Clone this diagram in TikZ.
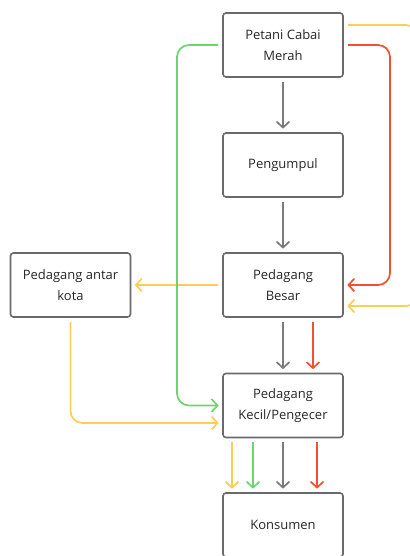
\documentclass[tikz,border=0pt]{standalone}
\usepackage{fontspec}
\setmainfont{Open Sans}
\usetikzlibrary{arrows.meta}
\definecolor{boxc}{HTML}{6A6A6A}
\definecolor{grayc}{HTML}{7B7B7B}
\definecolor{greenc}{HTML}{6CD66C}
\definecolor{yellowc}{HTML}{FFCD57}
\definecolor{redc}{HTML}{F2502E}
\definecolor{textc}{HTML}{262626}
\begin{document}
\begin{tikzpicture}[x=1pt,y=-1pt,
  box/.style={draw=boxc,line width=1.6pt,rounded corners=3pt,minimum width=120pt,minimum height=64pt,align=center,text=textc,font=\fontsize{13}{21}\selectfont,inner sep=0pt},
  conn/.style={line width=1.7pt,rounded corners=12pt,-{Straight Barb[length=6pt,width=13pt,line width=1.7pt]},shorten <=4pt,shorten >=3.5pt},
  cgray/.style={conn,draw=grayc},
  cgreen/.style={conn,draw=greenc},
  cyellow/.style={conn,draw=yellowc},
  cred/.style={conn,draw=redc}]
\useasboundingbox (0,0) rectangle (409,556);
\node[box] (petani) at (283,45) {Petani Cabai\\Merah};
\node[box] (pengumpul) at (283,165) {Pengumpul};
\node[box] (besar) at (283,285) {Pedagang\\Besar};
\node[box] (antar) at (70.5,285) {Pedagang antar\\kota};
\node[box] (kecil) at (283,405.5) {Pedagang\\Kecil/Pengecer};
\node[box] (konsumen) at (283,525) {Konsumen};
% vertical gray
\draw[cgray] (petani) -- (pengumpul);
\draw[cgray] (pengumpul) -- (besar);
\draw[cgray] (besar) -- (kecil);
\draw[cgray] (kecil) -- (konsumen);
% red
\draw[cred] (petani.east) -| (390,200) |- (besar.east);
\draw[cred] ([xshift=30pt]besar.south) -- ([xshift=30pt]besar.south |- kecil.north);
\draw[cred] ([xshift=34pt]kecil.south) -- ([xshift=34pt]kecil.south |- konsumen.north);
% yellow
\draw[cyellow] ([yshift=20pt]petani.east) -| (418,200) |- ([yshift=-21pt]besar.east);
\draw[cyellow] (besar.west) -- (antar.east);
\draw[cyellow] (antar.south) |- ([yshift=-17.5pt]kecil.west);
\draw[cyellow] ([xshift=-51pt]kecil.south) -- ([xshift=-51pt]kecil.south |- konsumen.north);
% green
\draw[cgreen] (petani.west) -| (177,200) |- (kecil.west);
\draw[cgreen] ([xshift=-30pt]kecil.south) -- ([xshift=-30pt]kecil.south |- konsumen.north);
\end{tikzpicture}
\end{document}
